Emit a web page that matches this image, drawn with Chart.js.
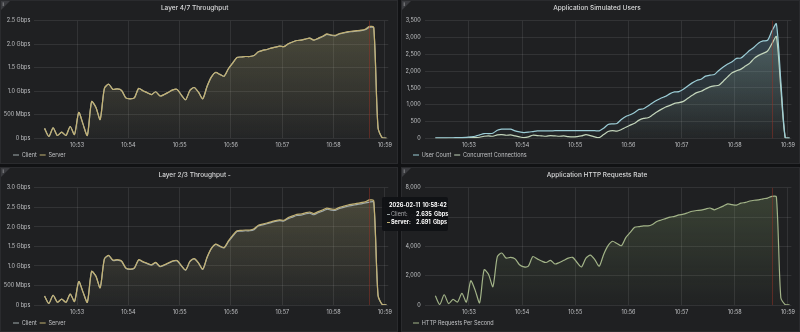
<!DOCTYPE html>
<html>
<head>
<meta charset="utf-8">
<script src="https://cdn.jsdelivr.net/npm/chart.js@4.4.1/dist/chart.umd.min.js"></script>
<style>
  html, body { margin: 0; padding: 0; background: #111214; }
  body { width: 800px; height: 332px; position: relative; overflow: hidden; font-family: Inter, Roboto, sans-serif; }
  .panel { position: absolute; background: #1f2022; border: 1px solid #2a2b2e; box-sizing: border-box; }
  .panel canvas { position: absolute; left: 0; top: 0; }
  .corner { position: absolute; left: 0; top: 0; width: 0; height: 0; border-top: 9px solid #3a3b3f; border-right: 9px solid transparent; }
  .corner span { position: absolute; left: 1.5px; top: -9.5px; font-size: 5px; color: #cfd0d2; }
  #hover { position: absolute; left: 382px; top: 197px; width: 66px; height: 34px; background: rgba(16,17,20,0.94); border-radius: 2px; font-size: 5.5px; line-height: 6.6px; color: #a9aaad; word-spacing: 1px; }
  #hover div { position: absolute; white-space: nowrap; }
  #hover .dash { width: 3px; height: 1px; }
  #hover .bold { color: #ffffff; font-weight: 700; }
</style>
</head>
<body>
<div class="panel" style="left:0;top:0;width:398px;height:164px"><canvas id="l47" width="396" height="162"></canvas><div class="corner"><span>i</span></div></div>
<div class="panel" style="left:401px;top:0;width:399px;height:164px"><canvas id="users" width="397" height="162"></canvas><div class="corner"><span>i</span></div></div>
<div class="panel" style="left:0;top:167px;width:398px;height:165px"><canvas id="l23" width="396" height="163"></canvas><div class="corner"><span>i</span></div></div>
<div class="panel" style="left:401px;top:167px;width:399px;height:165px"><canvas id="http" width="397" height="163"></canvas><div class="corner"><span>i</span></div></div>
<div id="hover">
  <div class="bold" id="hvTime" style="left:7px;top:4.5px"></div>
  <div class="dash" id="hvDashC" style="left:5px;top:16.5px"></div>
  <div style="left:9px;top:13.5px">Client:</div>
  <div class="bold" id="hvClient" style="left:34px;top:13.5px"></div>
  <div class="dash" id="hvDashS" style="left:5px;top:24.5px"></div>
  <div class="bold" style="left:9px;top:21.5px">Server:</div>
  <div class="bold" id="hvServer" style="left:34px;top:21.5px"></div>
</div>
<script>
// seconds after 10:52:00, one sample every 5 s
const times = Array.from({ length: 81 }, (_, i) => 22 + 5 * i);
const minuteTicks = [60, 120, 180, 240, 300, 360, 420];
const minuteLabels = ['10:53', '10:54', '10:55', '10:56', '10:57', '10:58', '10:59'];
const HOVER = 76; // 10:58:42

// Layer 4/7 throughput, Gbps
const l47Client = [0.21,0.04,0.22,0.06,0.13,0.06,0.25,0.08,0.55,0.30,0.06,0.78,0.66,0.40,1.06,1.15,1.04,1.05,1.02,0.86,
  0.84,0.86,1.06,1.01,0.97,0.93,0.99,0.90,0.93,0.98,1.03,1.04,0.92,0.82,1.02,1.08,0.98,0.84,1.10,1.30,
  1.40,1.36,1.32,1.48,1.60,1.72,1.73,1.74,1.74,1.76,1.84,1.87,1.89,1.92,1.94,1.96,1.95,2.01,2.05,2.08,
  2.09,2.11,2.13,2.09,2.12,2.16,2.21,2.19,2.18,2.22,2.24,2.26,2.27,2.28,2.29,2.31,2.36,2.35,0.22,0.01,0];
const l47Server = [0.21,0.04,0.22,0.06,0.13,0.06,0.25,0.08,0.55,0.30,0.06,0.78,0.66,0.40,1.06,1.15,1.04,1.05,1.02,0.86,
  0.84,0.86,1.06,1.01,0.97,0.93,0.99,0.90,0.93,0.98,1.03,1.04,0.92,0.82,1.02,1.08,0.98,0.84,1.10,1.30,
  1.40,1.36,1.32,1.48,1.60,1.72,1.73,1.74,1.74,1.76,1.84,1.87,1.89,1.92,1.94,1.96,1.95,2.01,2.05,2.08,
  2.09,2.11,2.13,2.09,2.13,2.17,2.22,2.20,2.19,2.23,2.25,2.27,2.28,2.29,2.30,2.32,2.38,2.36,0.22,0.01,0];

// Layer 2/3 throughput, Gbps
const l23Client = [0.23,0.04,0.25,0.07,0.15,0.07,0.28,0.09,0.60,0.33,0.07,0.86,0.74,0.44,1.18,1.26,1.14,1.15,1.12,0.94,
  0.91,0.94,1.15,1.10,1.06,1.02,1.08,0.98,1.02,1.07,1.12,1.13,1.00,0.89,1.11,1.18,1.07,0.91,1.21,1.44,
  1.55,1.50,1.46,1.62,1.76,1.88,1.89,1.90,1.90,1.93,2.02,2.05,2.08,2.11,2.14,2.16,2.15,2.21,2.25,2.29,
  2.30,2.33,2.35,2.31,2.36,2.40,2.45,2.43,2.42,2.47,2.50,2.53,2.55,2.57,2.59,2.61,2.635,2.63,0.24,0.01,0];
const l23Server = [0.23,0.04,0.25,0.07,0.15,0.07,0.28,0.09,0.60,0.33,0.07,0.86,0.74,0.44,1.18,1.27,1.15,1.16,1.13,0.95,
  0.92,0.95,1.16,1.11,1.07,1.03,1.09,0.99,1.03,1.08,1.13,1.14,1.01,0.90,1.12,1.19,1.08,0.92,1.22,1.45,
  1.56,1.51,1.47,1.64,1.78,1.90,1.91,1.92,1.92,1.95,2.04,2.07,2.10,2.13,2.16,2.18,2.17,2.24,2.28,2.32,
  2.33,2.36,2.38,2.34,2.39,2.43,2.48,2.46,2.45,2.50,2.53,2.56,2.58,2.60,2.62,2.64,2.691,2.67,0.25,0.01,0];

// simulated users
const userCount = [10,10,10,15,15,20,20,25,40,60,100,140,140,150,240,270,270,270,220,190,
  170,180,200,220,220,220,220,225,225,225,225,225,225,225,225,225,225,220,300,410,
  430,440,560,650,700,770,860,880,960,1050,1130,1200,1250,1330,1380,1390,1460,1560,1650,1720,
  1760,1850,1880,1900,2020,2120,2210,2280,2380,2390,2500,2620,2720,2840,2900,2920,3200,3410,1700,15,5];
const concurrentConnections = [0,0,0,0,0,5,5,10,20,20,30,60,70,60,100,110,90,100,70,40,
  20,40,90,80,70,60,80,70,60,70,50,40,50,70,110,80,40,20,110,200,
  230,210,260,330,390,450,540,590,610,690,780,860,930,980,1040,1060,1100,1190,1280,1360,
  1400,1470,1530,1560,1580,1700,1830,1950,2010,2060,2150,2240,2380,2470,2530,2600,2820,3030,1500,10,0];

// HTTP requests per second
const httpRps = [630,40,700,100,380,200,800,200,1650,1000,150,2400,2100,1250,3300,3550,3200,3250,3150,2750,
  2600,2650,3300,3150,3000,2900,3050,2800,2900,3050,3200,3250,2900,2600,3200,3400,3100,2650,3450,4050,
  4350,4200,4050,4600,4950,5300,5350,5400,5400,5500,5700,5800,5900,6000,6050,6150,6200,6300,6400,6450,
  6480,6550,6620,6500,6620,6750,6900,6850,6820,6950,7000,7100,7150,7180,7250,7300,7420,7380,500,20,0];

const FONT = 'Inter, Roboto, sans-serif';
const GRID = 'rgba(255,255,255,0.085)';
const TEXT = '#bfc0c3';
const CLIENT = '#9fa9aa';
const SERVER = '#c3b273';

const xy = vals => vals.map((v, i) => ({ x: times[i], y: v }));

// opacity gradient over the plot height, like Grafana's "opacity" fill mode
function fade(rgb, alpha) {
  return ctx => {
    const area = ctx.chart.chartArea;
    if (!area) return `rgba(${rgb},${alpha})`;
    const g = ctx.chart.ctx.createLinearGradient(0, area.top, 0, area.bottom);
    g.addColorStop(0, `rgba(${rgb},${alpha})`);
    g.addColorStop(1, `rgba(${rgb},0.02)`);
    return g;
  };
}

const gbps = v => v === 0 ? '0 bps' : v < 1 ? Math.round(v * 1000) + ' Mbps' : v.toFixed(1) + ' Gbps';
const count = v => v.toLocaleString('en-US');

// shared crosshair at the hovered timestamp
const hoverLine = {
  id: 'hoverLine',
  afterDatasetsDraw(chart) {
    const { top, bottom } = chart.chartArea;
    const x = Math.round(chart.scales.x.getPixelForValue(times[HOVER])) + 0.5;
    const c = chart.ctx;
    c.save();
    c.strokeStyle = 'rgba(150,50,38,0.5)';
    c.lineWidth = 1;
    c.beginPath();
    c.moveTo(x, top);
    c.lineTo(x, bottom);
    c.stroke();
    c.restore();
  }
};

// nudge the bottom legend right without moving the y axis
const legendInset = {
  id: 'legendInset',
  afterLayout(chart, args, opts) {
    chart.legend.left += opts.x;
    chart.legend.right += opts.x;
  }
};

function panel(id, { title, datasets, yMax, yStep, yFormat, axisWidth, padRight, axisHeight, legendX }) {
  return new Chart(document.getElementById(id), {
    type: 'line',
    data: { datasets },
    plugins: [hoverLine, legendInset],
    options: {
      responsive: false,
      animation: false,
      devicePixelRatio: 1,
      events: [],
      layout: { padding: { left: 0, right: padRight, top: 0, bottom: 3.75 } },
      elements: {
        point: { radius: 0 },
        line: { borderWidth: 1.2, tension: 0.25 }
      },
      scales: {
        x: {
          type: 'linear',
          min: 10,
          max: 424,
          border: { display: false },
          grid: { color: GRID, drawTicks: false },
          ticks: {
            color: TEXT,
            font: { size: 5.5, family: FONT },
            padding: 4,
            autoSkip: false,
            maxRotation: 0,
            callback: (v, i) => minuteLabels[i]
          },
          afterBuildTicks: s => { s.ticks = minuteTicks.map(v => ({ value: v })); },
          afterFit: s => { s.height = axisHeight; }
        },
        y: {
          min: 0,
          max: yMax,
          border: { display: false },
          grid: { color: GRID, drawTicks: false },
          ticks: {
            stepSize: yStep,
            color: TEXT,
            font: { size: 5.5, family: FONT },
            padding: 4,
            callback: yFormat
          },
          afterFit: s => { s.width = axisWidth; }
        }
      },
      plugins: {
        filler: { drawTime: 'beforeDatasetsDraw' },
        tooltip: { enabled: false },
        legendInset: { x: legendX },
        title: {
          display: true,
          text: title,
          color: '#d8d9da',
          font: { size: 6.5, weight: '500', family: FONT },
          padding: { top: 3, bottom: 9 }
        },
        legend: {
          position: 'bottom',
          align: 'start',
          maxHeight: 10,
          labels: {
            color: TEXT,
            font: { size: 5.5, family: FONT },
            usePointStyle: true,
            pointStyle: 'line',
            pointStyleWidth: 6,
            padding: 3,
            sort: (a, b) => a.datasetIndex - b.datasetIndex
          }
        }
      }
    }
  });
}

panel('l47', {
  title: 'Layer 4/7 Throughput',
  yMax: 2.5, yStep: 0.5, yFormat: gbps,
  axisWidth: 33.3, padRight: 8.7, axisHeight: 11, legendX: 9,
  datasets: [
    { label: 'Client', data: xy(l47Client), borderColor: CLIENT, fill: 'origin', backgroundColor: fade('150,170,185', 0.05), order: 1 },
    { label: 'Server', data: xy(l47Server), borderColor: SERVER, fill: 'origin', backgroundColor: fade('185,175,110', 0.27), order: 0 }
  ]
});

panel('users', {
  title: 'Application Simulated Users',
  yMax: 3500, yStep: 500, yFormat: count,
  axisWidth: 22.7, padRight: 7.1, axisHeight: 11, legendX: 8,
  datasets: [
    { label: 'User Count', data: xy(userCount), borderColor: '#9ccdd6', fill: 'origin', backgroundColor: fade('110,165,195', 0.3) },
    { label: 'Concurrent Connections', data: xy(concurrentConnections), borderColor: '#c3d5bb', fill: 'origin', backgroundColor: fade('170,195,160', 0.27) }
  ]
});

panel('l23', {
  title: 'Layer 2/3 Throughput -',
  yMax: 3.0, yStep: 0.5, yFormat: gbps,
  axisWidth: 33.3, padRight: 8.7, axisHeight: 12.25, legendX: 9,
  datasets: [
    { label: 'Client', data: xy(l23Client), borderColor: CLIENT, fill: 'origin', backgroundColor: fade('150,170,185', 0.05), order: 1 },
    { label: 'Server', data: xy(l23Server), borderColor: SERVER, fill: 'origin', backgroundColor: fade('185,175,110', 0.27), order: 0 }
  ]
});

panel('http', {
  title: 'Application HTTP Requests Rate',
  yMax: 8000, yStep: 2000, yFormat: count,
  axisWidth: 22.7, padRight: 7.1, axisHeight: 12.25, legendX: 8,
  datasets: [
    { label: 'HTTP Requests Per Second', data: xy(httpRps), borderColor: '#a2b388', fill: 'origin', backgroundColor: fade('140,170,110', 0.26) }
  ]
});

// hover readout for the Layer 2/3 panel
const secs = times[HOVER];
const pad2 = n => String(n).padStart(2, '0');
document.getElementById('hvTime').textContent =
  '2026-02-11 10:' + pad2(52 + Math.floor(secs / 60)) + ':' + pad2(secs % 60);
document.getElementById('hvClient').textContent = l23Client[HOVER].toFixed(3) + ' Gbps';
document.getElementById('hvServer').textContent = l23Server[HOVER].toFixed(3) + ' Gbps';
document.getElementById('hvDashC').style.background = CLIENT;
document.getElementById('hvDashS').style.background = SERVER;
</script>
</body>
</html>
